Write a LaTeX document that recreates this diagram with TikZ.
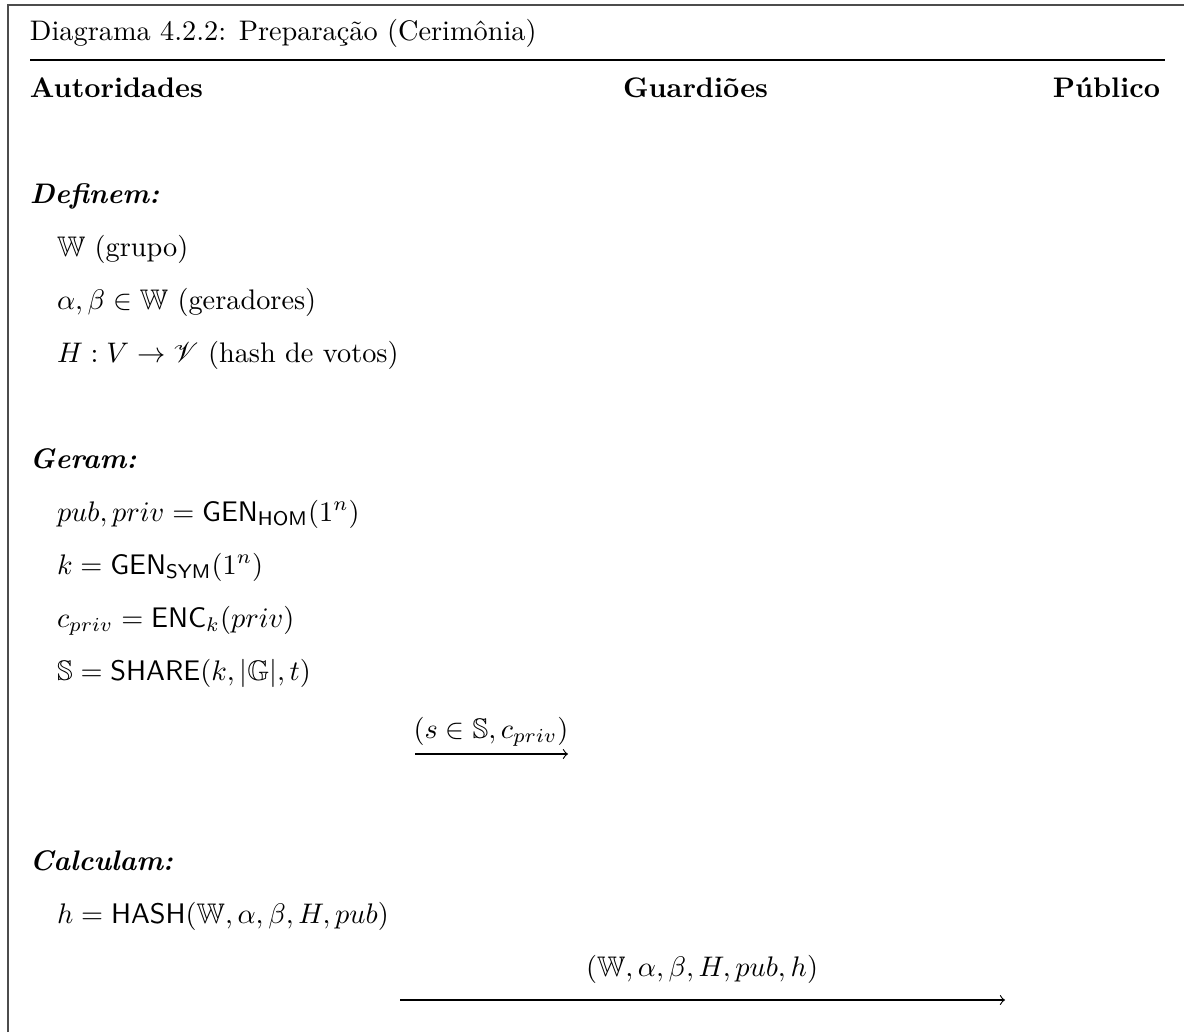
\documentclass[tikz,border=0pt]{standalone}
\usepackage{amsmath,amssymb}
\usepackage{mathrsfs}
\begin{document}
\begin{tikzpicture}[x=0.3534pt, y=-0.3534pt,
  txt/.style={inner sep=0pt, outer sep=0pt, anchor=base west},
  head/.style={txt, font=\bfseries},
  sect/.style={txt, font=\bfseries\itshape},
  lbl/.style={inner sep=0pt, outer sep=0pt, anchor=base},
  msg/.style={line width=0.4pt, -to},
  frame/.style={line width=0.6pt, draw=black!70},
  rulel/.style={line width=0.5pt}]
  \useasboundingbox (0,0) rectangle (1184,1032);

  % outer frame (left and top edges)
  \coordinate (fbl) at (8,1032);
  \coordinate (ftl) at (8,5);
  \coordinate (ftr) at (1184,5);
  \draw[frame] (fbl) -- (ftl) -- (ftr);

  % title and its rule
  \node[txt] (title) at (30,40) {Diagrama 4.2.2: Preparação (Cerimônia)};
  \coordinate (rl) at (30,60);
  \coordinate (rr) at (1165,60);
  \draw[rulel] (rl) -- (rr);

  % column headers
  \node[head] (hA) at (30,97) {Autoridades};
  \node[head, anchor=base east] (hG) at (768,97) {Guardiões};
  \node[head, anchor=base east] (hP) at (1160,97) {Público};

  % definitions
  \node[sect] (sDef) at (30,203) {Definem:};
  \node[txt] (d1) at (57,256) {$\mathbb{W}$ (grupo)};
  \node[txt] (d2) at (57,309) {$\alpha, \beta \in \mathbb{W}$ (geradores)};
  \node[txt] (d3) at (57,362) {$H : V \rightarrow \mathscr{V}$ (hash de votos)};

  % key generation
  \node[sect] (sGen) at (30,468) {Geram:};
  \node[txt] (g1) at (57,521) {$pub, priv = \mathsf{GEN}_{\mathsf{HOM}}(1^n)$};
  \node[txt] (g2) at (57,574) {$k = \mathsf{GEN}_{\mathsf{SYM}}(1^n)$};
  \node[txt] (g3) at (57,627) {$c_{priv} = \mathsf{ENC}_k(priv)$};
  \node[txt] (g4) at (57,680) {$\mathbb{S} = \mathsf{SHARE}(k, |\mathbb{G}|, t)$};

  % message to the guardians
  \node[lbl] (m1) at (491,738) {$(s \in \mathbb{S}, c_{priv})$};
  \coordinate (m1s) at (415,754);
  \coordinate (m1e) at (568,754);
  \draw[msg] (m1s) -- (m1e);

  % hash computation
  \node[sect] (sCal) at (30,870) {Calculam:};
  \node[txt] (c1) at (57,923) {$h = \mathsf{HASH}(\mathbb{W}, \alpha, \beta, H, pub)$};

  % message to the public
  \node[lbl] (m2) at (702,976) {$(\mathbb{W}, \alpha, \beta, H, pub, h)$};
  \coordinate (m2s) at (400,1000);
  \coordinate (m2e) at (1005,1000);
  \draw[msg] (m2s) -- (m2e);
\end{tikzpicture}
\end{document}
